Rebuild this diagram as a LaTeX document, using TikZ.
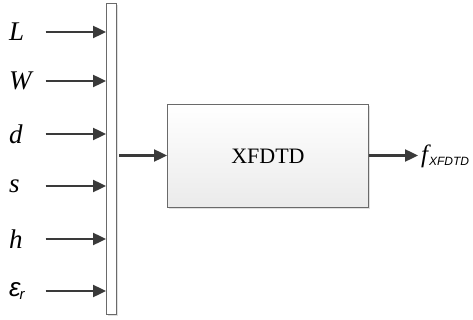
\documentclass[tikz,border=0pt]{standalone}
\usepackage{fontspec}
\setmainfont{Liberation Serif}
\newfontfamily\subsans{Liberation Sans}
\usetikzlibrary{arrows.meta}
\definecolor{linec}{HTML}{3A3A3A}
\definecolor{edgec}{HTML}{6A6A6A}
\begin{document}
\begin{tikzpicture}[x=1pt,y=-1pt,
  conn/.style={draw=linec,line width=2.4pt,-{Triangle[length=13pt,width=12pt]}},
  lab/.style={anchor=west,inner sep=0pt,font=\fontsize{27}{29}\selectfont\itshape},
  shadowc/.style={fill=black!12,draw=none}]
\useasboundingbox (0,0) rectangle (473,320);
% bar
\fill[shadowc] (108,5) rectangle (118,316);
\node[draw=edgec,fill=white,line width=0.9pt,minimum width=10pt,minimum height=311pt,inner sep=0pt,anchor=north west] (bar) at (106,3) {};
% box
\fill[shadowc] (169,106) rectangle (370,209);
\node[draw=edgec,line width=0.9pt,top color=white,bottom color=black!8,minimum width=201pt,minimum height=103pt,inner sep=0pt,anchor=north west,font=\fontsize{22}{24}\selectfont] (box) at (167,104) {XFDTD};
% inputs
\foreach \n/\t/\y in {l/L/32, w/W/81, d/d/134, s/s/186, h/h/239} {
  \node[lab] (lab\n) at (9,\y) {\t};
  \coordinate (s\n) at (45.5,\y);
  \coordinate (e\n) at (bar.west |- 0,\y);
  \draw[conn] (s\n) -- (e\n);
}
\node[lab] (labe) at (9,291) {{\subsans\fontsize{26}{28}\selectfont\itshape ε}\kern-1pt{\subsans\fontsize{15}{16}\selectfont\itshape\raisebox{-3pt}{r}}};
\coordinate (se) at (45.5,291);
\coordinate (ee) at (bar.west |- 0,291);
\draw[conn] (se) -- (ee);
% middle
\coordinate (ms) at (119,155.5);
\draw[conn] (ms) -- (box.west |- ms);
% output
\coordinate (oe) at (418,155.5);
\draw[conn] (box.east |- oe) -- (oe);
\node[anchor=west,inner sep=0pt,font=\fontsize{25}{27}\selectfont\itshape] (out) at (421,156) {f\kern1pt{\subsans\fontsize{12}{14}\selectfont\itshape\raisebox{-3pt}{XFDTD}}};
\end{tikzpicture}
\end{document}
